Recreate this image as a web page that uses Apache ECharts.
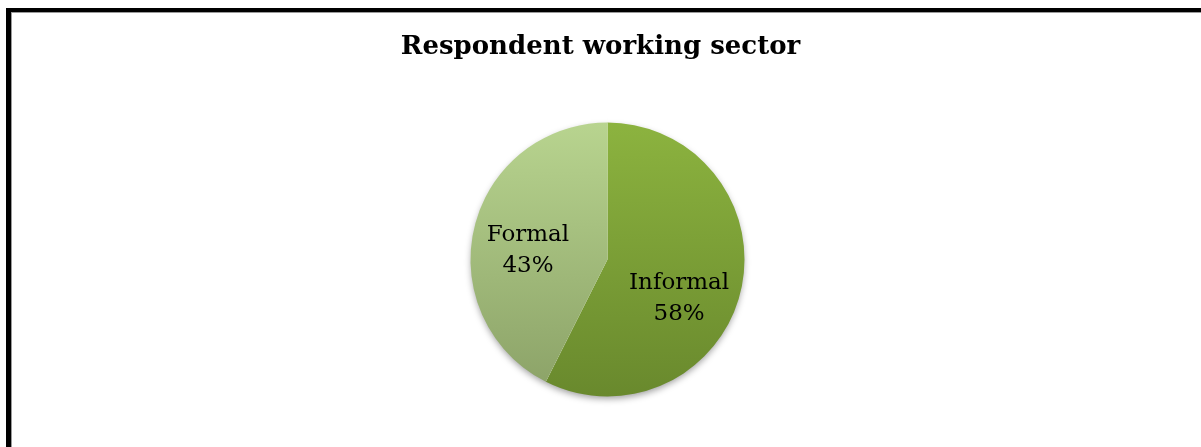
<!DOCTYPE html>
<html>
<head>
<meta charset="utf-8">
<script src="https://cdn.jsdelivr.net/npm/echarts@6/dist/echarts.min.js"></script>
<style>
  html, body { margin: 0; padding: 0; background: #fff; }
  #chart { width: 1201px; height: 447px; }
</style>
</head>
<body>
<div id="chart"></div>
<script>
// Share of respondents by working sector (percent)
const categories = ['Informal', 'Formal'];
const shares = [58, 43];

// vertical gradient per slice: [top colour, bottom colour]
const sliceColors = [
  ['#8cb33f', '#69892d'],
  ['#b8d48f', '#8da469']
];
const labelOffsets = [[2, 23], [-10, 8]];

const chart = echarts.init(document.getElementById('chart'), null, { renderer: 'canvas' });

const data = categories.map((name, i) => ({
  name: name,
  value: shares[i],
  itemStyle: {
    color: new echarts.graphic.LinearGradient(0, 0, 0, 1, [
      { offset: 0, color: sliceColors[i][0] },
      { offset: 1, color: sliceColors[i][1] }
    ], false)
  },
  label: { offset: labelOffsets[i] }
}));

const total = shares.reduce((a, b) => a + b, 0);

chart.setOption({
  backgroundColor: '#ffffff',
  animation: false,
  title: {
    text: 'Respondent working sector',
    left: 'center',
    top: 29,
    textStyle: {
      fontFamily: 'DejaVu Serif',
      fontWeight: 'bold',
      fontSize: 26,
      color: '#000'
    }
  },
  graphic: [
    { type: 'rect', shape: { x: 6, y: 8, width: 5, height: 440 }, style: { fill: '#000' } },
    { type: 'rect', shape: { x: 6, y: 8, width: 1200, height: 4 }, style: { fill: '#000' } },
    { type: 'rect', shape: { x: 11, y: 12, width: 1, height: 440 }, style: { fill: '#9a9a9a' } },
    { type: 'rect', shape: { x: 11, y: 12, width: 1200, height: 1 }, style: { fill: '#9a9a9a' } }
  ],
  series: [
    {
      // soft drop shadow under the whole disc
      type: 'pie',
      z: 1,
      center: [607.5, 259.5],
      radius: [0, 136],
      silent: true,
      label: { show: false },
      labelLine: { show: false },
      itemStyle: {
        color: '#ffffff',
        shadowBlur: 7,
        shadowOffsetY: 3,
        shadowColor: 'rgba(0,0,0,0.4)'
      },
      data: [{ name: 'all', value: total }]
    },
    {
      type: 'pie',
      z: 2,
      center: [607.5, 259.5],
      radius: [0, 137],
      startAngle: 90,
      clockwise: true,
      silent: true,
      itemStyle: { borderWidth: 0 },
      label: {
        show: true,
        position: 'inside',
        formatter: '{b}\n{c}%',
        fontFamily: 'DejaVu Serif',
        fontSize: 23,
        lineHeight: 31,
        color: '#000'
      },
      labelLine: { show: false },
      data: data
    }
  ]
});
</script>
</body>
</html>
